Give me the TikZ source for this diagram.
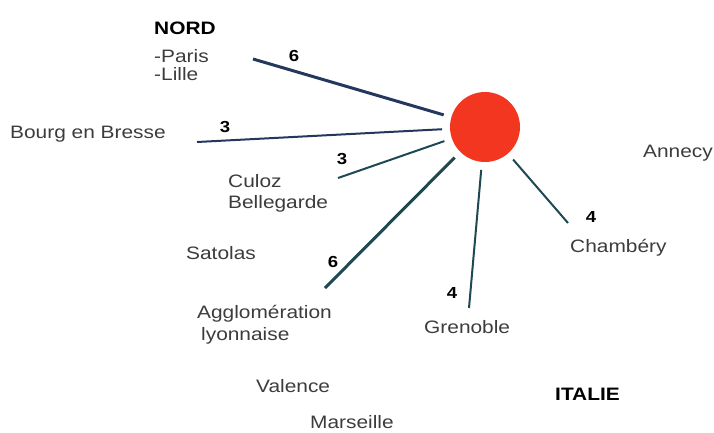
\documentclass[tikz,border=0pt]{standalone}
\usepackage{fontspec}
\setmainfont[FakeStretch=1.16]{Liberation Sans}
\usepackage{tikz}
\usetikzlibrary{positioning}
\definecolor{hubred}{HTML}{F2361F}
\definecolor{navyline}{HTML}{23375F}
\definecolor{tealline}{HTML}{1E4852}
\definecolor{towngray}{HTML}{3C3C3C}

\begin{document}
\begin{tikzpicture}[x=1pt,y=-1pt,
		town/.style={anchor=base west,inner sep=0pt,text=towngray,align=left,font=\fontsize{18}{20}\selectfont},
		region/.style={anchor=base west,inner sep=0pt,text=black,font=\fontsize{18}{20}\selectfont\bfseries},
		weight/.style={inner sep=0pt,text=black,font=\fontsize{16}{17}\selectfont\bfseries},
		thinlink/.style={line width=2pt},
		thicklink/.style={line width=3pt}]
		\useasboundingbox (0,0) rectangle (714,432);
		\node [circle,fill=hubred,minimum size=70pt,outer sep=8pt] (hub) at (485,127) {};
		% regions and towns (base of a two-line text is its last line)
		\node [region] (nord) at (154,34) {NORD};
		\node [town,font=\fontsize{18}{18}\selectfont] (paris) at (154,80) {-Paris\\-Lille};
		\node [town] (bourg) at (10,138) {Bourg en Bresse};
		\node [town,font=\fontsize{18}{21}\selectfont] (culoz) at (228,208) {Culoz\\Bellegarde};
		\node [town,font=\fontsize{18}{22}\selectfont] (lyon) at (197,340) {Agglomération\\\hspace{4pt}lyonnaise};
		\node [town] (grenoble) at (424,333) {Grenoble};
		\node [town] (chambery) at (570,252) {Chambéry};
		\foreach \n/\x/\y in {Satolas/186/259,Valence/256/392,Marseille/310/428,Annecy/643/157}{
		    \node [town] (\n) at (\x,\y) {\n};
		}
		\node [region] (italie) at (555,400) {ITALIE};
		% connectors
		\coordinate (paris end) at (253,59);
		\coordinate (bourg end) at (197,142);
		\coordinate (culoz end) at (338,178);
		\coordinate (lyon end) at (325,288);
		\coordinate (grenoble end) at (469,308);
		\coordinate (chambery end) at (568,223);
		\draw [thicklink,navyline] (hub) -- (paris end);
		\draw [thinlink,navyline] (hub) -- (bourg end);
		\draw [thinlink,tealline] (hub) -- (culoz end);
		\draw [thicklink,tealline] (hub) -- (lyon end);
		\draw [thinlink,tealline] (hub) -- (grenoble end);
		\draw [thinlink,tealline] (hub) -- (chambery end);
		% weights
		\foreach \w/\x/\y/\m in {6/294/56/paris,3/225/127/bourg,3/342/159/culoz,6/333/262/lyon,4/452/293/grenoble,4/591/217/chambery}{
		    \node [weight] (\m weight) at (\x,\y) {\w};
		}
	\end{tikzpicture}
\end{document}
